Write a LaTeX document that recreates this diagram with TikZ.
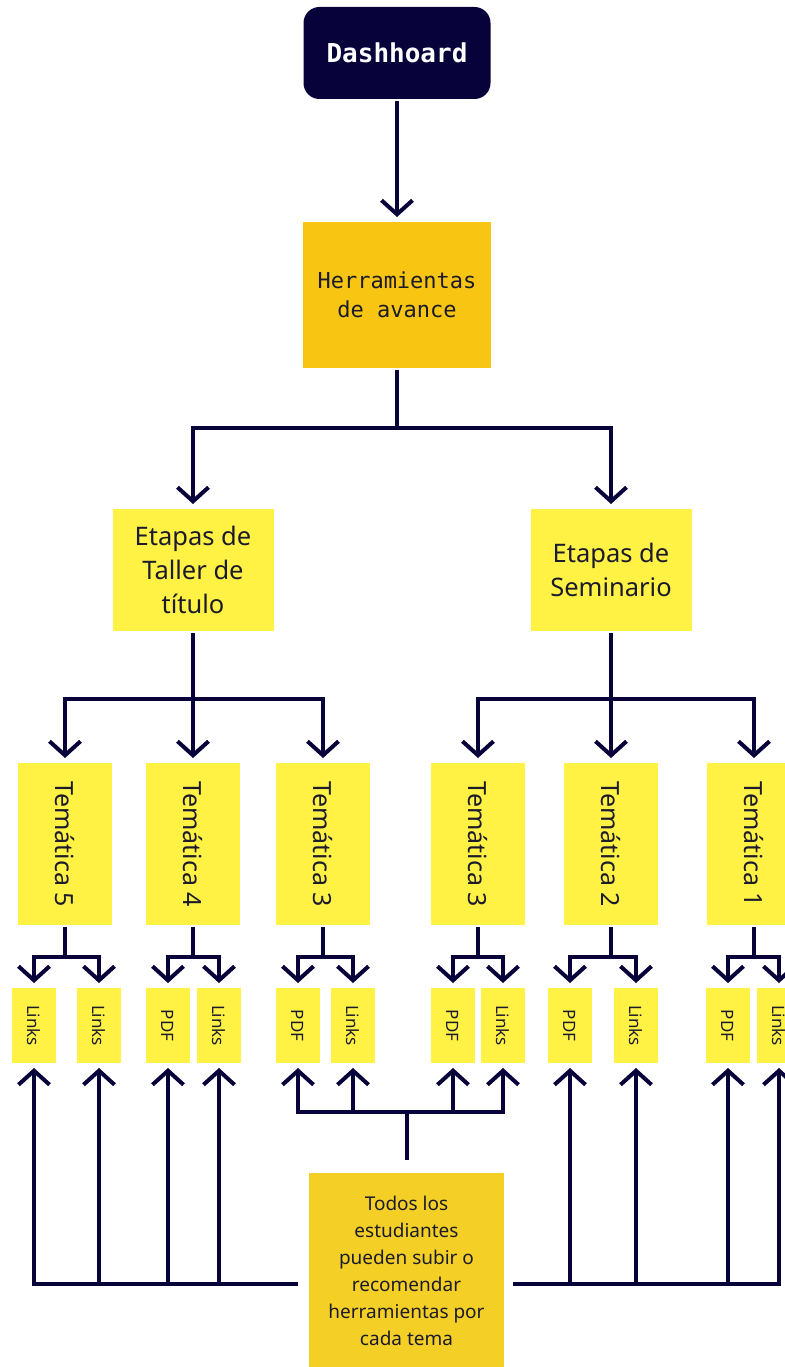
\documentclass[tikz,border=0pt]{standalone}
\usepackage{fontspec}
\setmainfont{Noto Sans}
\newfontfamily\codefont{DejaVu Sans Mono}
\usetikzlibrary{arrows.meta}
\definecolor{navy}{HTML}{07023A}
\definecolor{ink}{HTML}{1C1B2C}
\definecolor{amber}{HTML}{F8C512}
\definecolor{lemon}{HTML}{FFF245}
\definecolor{mustard}{HTML}{F4D027}
\begin{document}
\begin{tikzpicture}[x=1pt,y=-1pt,line width=4pt,navy,
  link/.style={-{Straight Barb[length=14pt,width=31pt]},shorten >=3pt},
  box/.style={rectangle,inner sep=0pt,text=ink,align=center},
  etapa/.style={box,fill=lemon,minimum width=161pt,minimum height=122pt,
    font=\fontsize{25.5}{34}\selectfont},
  tema/.style={box,fill=lemon,minimum width=94pt,minimum height=162pt,
    font=\fontsize{25}{30}\selectfont},
  hoja/.style={box,fill=lemon,minimum width=44pt,minimum height=75pt,
    font=\fontsize{17}{20}\selectfont}]
\useasboundingbox (0,0) rectangle (784,1367);

\node[box,fill=navy,text=white,rounded corners=16pt,minimum width=187pt,
  minimum height=92pt,font=\codefont\bfseries\fontsize{26}{30}\selectfont]
  (dash) at (397,53) {Dashhoard};
\node[box,fill=amber,minimum width=188pt,minimum height=146pt,
  font=\codefont\fontsize{22}{29}\selectfont]
  (tools) at (397,295) {Herramientas\\de avance};

\node[etapa] (taller) at (193,570) {Etapas de\\Taller de\\título};
\node[etapa] (semi) at (611,570) {Etapas de\\Seminario};

\node[tema] (t5)  at (65,844)  {\rotatebox{-90}{Temática 5}};
\node[tema] (t4)  at (193,844) {\rotatebox{-90}{Temática 4}};
\node[tema] (t3a) at (323,844) {\rotatebox{-90}{Temática 3}};
\node[tema] (t3b) at (478,844) {\rotatebox{-90}{Temática 3}};
\node[tema] (t2)  at (611,844) {\rotatebox{-90}{Temática 2}};
\node[tema] (t1)  at (754,844) {\rotatebox{-90}{Temática 1}};

\node[hoja] (t5a)  at (34,1025.5)  {\rotatebox{-90}{Links}};
\node[hoja] (t5b)  at (99,1025.5)  {\rotatebox{-90}{Links}};
\node[hoja] (t4a)  at (168,1025.5) {\rotatebox{-90}{PDF}};
\node[hoja] (t4b)  at (219,1025.5) {\rotatebox{-90}{Links}};
\node[hoja] (t3aa) at (298,1025.5) {\rotatebox{-90}{PDF}};
\node[hoja] (t3ab) at (353,1025.5) {\rotatebox{-90}{Links}};
\node[hoja] (t3ba) at (453,1025.5) {\rotatebox{-90}{PDF}};
\node[hoja] (t3bb) at (503,1025.5) {\rotatebox{-90}{Links}};
\node[hoja] (t2a)  at (570,1025.5) {\rotatebox{-90}{PDF}};
\node[hoja] (t2b)  at (636,1025.5) {\rotatebox{-90}{Links}};
\node[hoja] (t1a)  at (728,1025.5) {\rotatebox{-90}{PDF}};
\node[hoja] (t1b)  at (779,1025.5) {\rotatebox{-90}{Links}};

\node[box,fill=mustard,minimum width=195pt,minimum height=196pt,
  font=\fontsize{19}{27}\selectfont]
  (todos) at (406.5,1271) {Todos los\\estudiantes\\pueden subir o\\recomendar\\herramientas por\\cada tema};

\draw[link] (dash.south) -- (tools.north);
\draw[link] (tools.south) -- ++(0,58) -| (taller.north);
\draw[link] (tools.south) -- ++(0,58) -| (semi.north);

\draw[link] (taller.south) -- ++(0,66) -| (t5.north);
\draw[link] (taller.south) -- ++(0,66) -| (t4.north);
\draw[link] (taller.south) -- ++(0,66) -| (t3a.north);
\draw[link] (semi.south) -- ++(0,66) -| (t3b.north);
\draw[link] (semi.south) -- ++(0,66) -| (t2.north);
\draw[link] (semi.south) -- ++(0,66) -| (t1.north);

\draw[link] (t5.south) -- ++(0,30) -| (t5a.north);
\draw[link] (t5.south) -- ++(0,30) -| (t5b.north);
\draw[link] (t4.south) -- ++(0,30) -| (t4a.north);
\draw[link] (t4.south) -- ++(0,30) -| (t4b.north);
\draw[link] (t3a.south) -- ++(0,30) -| (t3aa.north);
\draw[link] (t3a.south) -- ++(0,30) -| (t3ab.north);
\draw[link] (t3b.south) -- ++(0,30) -| (t3ba.north);
\draw[link] (t3b.south) -- ++(0,30) -| (t3bb.north);
\draw[link] (t2.south) -- ++(0,30) -| (t2a.north);
\draw[link] (t2.south) -- ++(0,30) -| (t2b.north);
\draw[link] (t1.south) -- ++(0,30) -| (t1a.north);
\draw[link] (t1.south) -- ++(0,30) -| (t1b.north);

\coordinate (midbus) at (406.5,1112);
\draw[shorten <=11pt] (todos.north) -- (midbus);
\draw[link] (midbus) -| (t3aa.south);
\draw[link] (midbus) -| (t3bb.south);
\draw[link] (t3ab.south |- midbus) -- (t3ab.south);
\draw[link] (t3ba.south |- midbus) -- (t3ba.south);

\coordinate (leftend) at (298,1284);
\draw[link] (leftend) -| (t5a.south);
\draw[link] (t5b.south |- leftend) -- (t5b.south);
\draw[link] (t4a.south |- leftend) -- (t4a.south);
\draw[link] (t4b.south |- leftend) -- (t4b.south);

\coordinate (rightend) at (513,1284);
\draw[link] (rightend) -| (t1b.south);
\draw[link] (t2a.south |- rightend) -- (t2a.south);
\draw[link] (t2b.south |- rightend) -- (t2b.south);
\draw[link] (t1a.south |- rightend) -- (t1a.south);
\end{tikzpicture}
\end{document}
